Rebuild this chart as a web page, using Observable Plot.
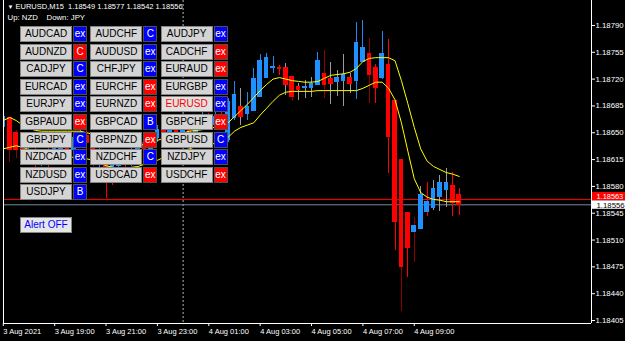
<!DOCTYPE html>
<html><head><meta charset="utf-8">
<script src="https://cdn.jsdelivr.net/npm/d3@7"></script>
<script src="https://cdn.jsdelivr.net/npm/@observablehq/plot@0.6"></script>
<style>
html,body{margin:0;padding:0;background:#000;}
#wrap{position:relative;width:625px;height:341px;overflow:hidden;background:#000;font-family:"Liberation Sans",Arial,sans-serif;}
#wrap svg{display:block;}
.btn{position:absolute;box-sizing:border-box;height:16px;width:52px;background:#d4d4d4;border:1px solid #858585;color:#000;font-size:10px;line-height:14px;text-align:center;white-space:nowrap;}
.sq{position:absolute;box-sizing:border-box;height:16px;width:14px;border:1px solid #505050;color:#fff;font-size:10px;line-height:14px;text-align:center;}
</style></head><body><div id="wrap"></div>
<script>
// ---- data (EURUSD M15, bars from 3 Aug 17:00 to 4 Aug 10:45) ----
const open  = [1.18657,1.18669,1.18650,1.18633,1.18616,1.18627,1.18611,1.18624,1.18614,1.18629,1.18640,1.18627,1.18643,1.18646,1.18636,1.18614,1.18624,1.18594,1.18607,1.18620,1.18611,1.18627,1.18637,1.18629,1.18643,1.18653,1.18645,1.18656,1.18648,1.18658,1.18650,1.18661,1.18669,1.18660,1.18671,1.18640,1.18669,1.18683,1.18675,1.18679,1.18697,1.18721,1.18735,1.18735,1.18734,1.18723,1.18710,1.18708,1.18709,1.18712,1.18727,1.18720,1.18716,1.18718,1.18721,1.18718,1.18742,1.18753,1.18734,1.18721,1.18738,1.18692,1.18615,1.18545,1.18521,1.18524,1.18546,1.18552,1.18566,1.18575,1.18580,1.18569];
const high  = [1.18696,1.18670,1.18653,1.18640,1.18631,1.18629,1.18627,1.18632,1.18636,1.18650,1.18645,1.18649,1.18658,1.18653,1.18640,1.18629,1.18627,1.18614,1.18627,1.18627,1.18632,1.18643,1.18645,1.18649,1.18660,1.18658,1.18663,1.18661,1.18666,1.18665,1.18669,1.18676,1.18675,1.18679,1.18676,1.18695,1.18717,1.18708,1.18703,1.18734,1.18752,1.18753,1.18750,1.18738,1.18740,1.18723,1.18714,1.18718,1.18722,1.18755,1.18757,1.18742,1.18731,1.18752,1.18727,1.18794,1.18797,1.18773,1.18739,1.18782,1.18772,1.18692,1.18615,1.18545,1.18539,1.18580,1.18585,1.18588,1.18594,1.18603,1.18598,1.18577];
const low   = [1.18653,1.18611,1.18616,1.18607,1.18611,1.18603,1.18606,1.18601,1.18610,1.18624,1.18619,1.18622,1.18637,1.18627,1.18606,1.18601,1.18564,1.18581,1.18601,1.18603,1.18606,1.18620,1.18623,1.18624,1.18637,1.18640,1.18640,1.18643,1.18643,1.18645,1.18646,1.18656,1.18653,1.18654,1.18656,1.18637,1.18666,1.18660,1.18666,1.18679,1.18696,1.18721,1.18727,1.18725,1.18699,1.18691,1.18692,1.18695,1.18696,1.18712,1.18695,1.18687,1.18697,1.18684,1.18701,1.18693,1.18742,1.18688,1.18688,1.18720,1.18597,1.18496,1.18417,1.18461,1.18481,1.18524,1.18541,1.18549,1.18547,1.18552,1.18541,1.18542];
const close = [1.18670,1.18627,1.18628,1.18616,1.18627,1.18611,1.18624,1.18614,1.18629,1.18640,1.18627,1.18643,1.18650,1.18636,1.18614,1.18624,1.18594,1.18607,1.18620,1.18611,1.18627,1.18637,1.18629,1.18643,1.18653,1.18645,1.18656,1.18648,1.18658,1.18650,1.18661,1.18669,1.18660,1.18671,1.18663,1.18690,1.18699,1.18670,1.18683,1.18720,1.18744,1.18747,1.18736,1.18733,1.18712,1.18697,1.18706,1.18710,1.18714,1.18744,1.18712,1.18713,1.18721,1.18725,1.18714,1.18767,1.18761,1.18726,1.18709,1.18753,1.18645,1.18534,1.18475,1.18499,1.18528,1.18569,1.18559,1.18577,1.18585,1.18584,1.18558,1.18556];
// wick colour code per bar: b blue, r red, d dark red, g gray
const wickCode = ["b","d","d","r","b","r","b","r","b","b","r","b","b","r","r","b","r","r","b","r","b","b","r","b","b","r","b","r","b","r","b","b","r","b","r","b","b","g","b","b","b","b","b","r","g","d","g","g","g","b","d","g","g","g","g","b","b","d","r","b","r","r","d","r","d","g","r","g","g","g","r","r"];
// two yellow moving-average bands
const bandUpper = [1.18666,1.18670,1.18666,1.18660,1.18656,1.18653,1.18652,1.18652,1.18652,1.18652,1.18652,1.18652,1.18652,1.18650,1.18648,1.18644,1.18640,1.18636,1.18633,1.18632,1.18632,1.18633,1.18635,1.18637,1.18640,1.18643,1.18645,1.18648,1.18650,1.18652,1.18653,1.18654,1.18656,1.18657,1.18658,1.18663,1.18671,1.18679,1.18687,1.18696,1.18705,1.18713,1.18720,1.18722,1.18720,1.18718,1.18717,1.18716,1.18716,1.18717,1.18721,1.18725,1.18726,1.18727,1.18729,1.18734,1.18743,1.18747,1.18748,1.18748,1.18748,1.18744,1.18718,1.18688,1.18657,1.18629,1.18613,1.18606,1.18602,1.18598,1.18596,1.18593];
const bandLower = [1.18629,1.18631,1.18633,1.18631,1.18628,1.18626,1.18623,1.18620,1.18619,1.18618,1.18618,1.18618,1.18618,1.18616,1.18614,1.18611,1.18607,1.18605,1.18603,1.18603,1.18605,1.18606,1.18609,1.18611,1.18614,1.18618,1.18620,1.18624,1.18627,1.18629,1.18632,1.18633,1.18635,1.18636,1.18639,1.18644,1.18652,1.18657,1.18660,1.18663,1.18673,1.18682,1.18691,1.18699,1.18703,1.18704,1.18704,1.18704,1.18704,1.18705,1.18705,1.18705,1.18705,1.18705,1.18705,1.18705,1.18708,1.18712,1.18716,1.18716,1.18708,1.18693,1.18663,1.18626,1.18590,1.18572,1.18566,1.18563,1.18562,1.18560,1.18560,1.18560];

const yTicks = [1.18790,1.18755,1.18720,1.18685,1.18650,1.18615,1.18580,1.18545,1.18510,1.18475,1.18440,1.18405];
const xTickBars = [0,8,16,24,32,40,48,56,64];
const xTickLabels = ["3 Aug 2021","3 Aug 19:00","3 Aug 21:00","3 Aug 23:00","4 Aug 01:00","4 Aug 03:00","4 Aug 05:00","4 Aug 07:00","4 Aug 09:00"];
const daySeparatorBars = [28];
const askPrice = 1.18563;
const bidPrice = 1.18556;
const titleText = "EURUSD,M15  1.18549 1.18577 1.18542 1.18556";
const upText = "Up: NZD";
const downText = "Down: JPY";

const pairs = ["AUDCAD","AUDCHF","AUDJPY","AUDNZD","AUDUSD","CADCHF","CADJPY","CHFJPY","EURAUD","EURCAD","EURCHF","EURGBP","EURJPY","EURNZD","EURUSD","GBPAUD","GBPCAD","GBPCHF","GBPJPY","GBPNZD","GBPUSD","NZDCAD","NZDCHF","NZDJPY","NZDUSD","USDCAD","USDCHF","USDJPY"];
const pairSignal = ["ex","C","ex","C","ex","ex","C","ex","ex","ex","ex","ex","ex","ex","ex","ex","B","ex","C","ex","C","ex","C","ex","ex","ex","ex","B"];
const pairSignalColor = ["blue","blue","blue","red","blue","red","blue","blue","red","blue","red","blue","blue","red","blue","red","blue","red","blue","red","blue","blue","blue","blue","blue","red","red","blue"];
const activePair = "EURUSD";
const alertText = "Alert OFF";

// ---- styles ----
const UP = "#1e90ff", DOWN = "#ff0000";
const wickColors = {b: "#1e88f0", r: "#ff0000", d: "#8b0000", g: "#9a9a9a"};
const FONT = "Liberation Sans, Arial, sans-serif";
const xDomain = [0.03, 91.6];
const yDomain = [1.184011, 1.188226];

const bars = open.map((o, i) => ({i, o, h: high[i], l: low[i], c: close[i], w: wickColors[wickCode[i]], up: bandUpper[i], lo: bandLower[i]}));

const chart = Plot.plot({
  width: 625, height: 341,
  marginLeft: 3, marginRight: 34, marginTop: 0, marginBottom: 18,
  x: {domain: xDomain, axis: null},
  y: {domain: yDomain, axis: null},
  color: {type: "identity"},
  style: {background: "#000", color: "#fff", fontFamily: FONT, overflow: "visible"},
  marks: [
    Plot.ruleX(daySeparatorBars, {x: d => d, stroke: "#b4b4b4", strokeDasharray: "2,2"}),
    Plot.ruleY([askPrice], {stroke: "#ff0000"}),
    Plot.ruleY([bidPrice], {stroke: "#778899"}),
    Plot.ruleX(bars, {x: "i", y1: "l", y2: "h", stroke: "w", clip: true, shapeRendering: "crispEdges"}),
    Plot.rect(bars, {x1: d => d.i - 0.36, x2: d => d.i + 0.36, y1: d => Math.min(d.o, d.c), y2: d => Math.max(d.o, d.c), insetTop: -0.5, insetBottom: -0.5, fill: d => d.c >= d.o ? UP : DOWN, clip: true, shapeRendering: "crispEdges"}),
    Plot.line(bars, {x: "i", y: "up", stroke: "#ffff00", strokeWidth: 1, clip: true}),
    Plot.line(bars, {x: "i", y: "lo", stroke: "#ffff00", strokeWidth: 1, clip: true}),
    Plot.ruleX([xDomain[0], xDomain[1]], {stroke: "#fff"}),
    Plot.ruleY([yDomain[0]], {stroke: "#fff"}),
    Plot.axisY(yTicks, {anchor: "right", tickSize: 3, tickPadding: 1, tickFormat: d => d.toFixed(5), fontSize: 7.8, color: "#fff", label: null}),
    Plot.axisX(xTickBars, {anchor: "bottom", tickSize: 3, tickPadding: 2, textAnchor: "start", tickFormat: d => xTickLabels[xTickBars.indexOf(d)], fontSize: 7.5, color: "#fff", label: null}),
    Plot.text([askPrice], {y: d => d, text: d => d.toFixed(5), frameAnchor: "right", dx: 5, dy: -2.8, textAnchor: "start", fill: "#fff", fontSize: 7.4}),
    Plot.text([bidPrice], {y: d => d, text: d => d.toFixed(5), frameAnchor: "right", dx: 5, dy: 0.6, textAnchor: "start", fill: "#000", fontSize: 7.8}),
    Plot.text(["\u25BC"], {frameAnchor: "top-left", dx: 4, dy: 6.5, textAnchor: "start", lineAnchor: "middle", fontSize: 6, fill: "#fff"}),
    Plot.text([titleText], {frameAnchor: "top-left", dx: 12, dy: 6.5, textAnchor: "start", lineAnchor: "middle", fontSize: 7.5, fill: "#fff"}),
    Plot.text([upText], {frameAnchor: "top-left", dx: 4, dy: 16.5, textAnchor: "start", lineAnchor: "middle", fontSize: 7.8, fill: "#fff"}),
    Plot.text([downText], {frameAnchor: "top-left", dx: 43, dy: 16.5, textAnchor: "start", lineAnchor: "middle", fontSize: 7.8, fill: "#fff"})
  ]
});

const wrap = document.getElementById("wrap");
wrap.appendChild(chart);

// price tags behind the right-axis labels (inserted right before each tag's mark group)
const ys = chart.scale("y"), xs = chart.scale("x");
const tagX = xs.range[1] + 1;
const allTexts = Array.from(chart.querySelectorAll("text"));
for (const [price, bg, shift] of [[askPrice, "#ff0000", -2.8], [bidPrice, "#ffffff", 0.3]]) {
  const label = price.toFixed(5);
  const t = allTexts.find(el => el.textContent === label);
  if (!t) continue;
  let g = t;
  while (g.parentNode && g.parentNode !== chart) g = g.parentNode;
  const yc = ys.apply(price) + shift;
  const r = document.createElementNS("http://www.w3.org/2000/svg", "rect");
  r.setAttribute("x", tagX); r.setAttribute("y", yc - 4.2);
  r.setAttribute("width", 625 - tagX); r.setAttribute("height", 8.4);
  r.setAttribute("fill", bg);
  chart.insertBefore(r, g);
}

// button panel
const colLeft = c => 20 + c * 70.3;
const rowTop = r => 26 + r * 17.6;
pairs.forEach((p, k) => {
  const c = k % 3, r = Math.floor(k / 3);
  const b = document.createElement("div");
  b.className = "btn";
  b.textContent = p;
  b.style.left = colLeft(c) + "px";
  b.style.top = rowTop(r) + "px";
  if (p === activePair) { b.style.color = "#ff0000"; b.style.background = "#e0e0e0"; }
  wrap.appendChild(b);
  const s = document.createElement("div");
  s.className = "sq";
  s.textContent = pairSignal[k];
  s.style.left = (colLeft(c) + 53) + "px";
  s.style.top = rowTop(r) + "px";
  s.style.background = pairSignalColor[k] === "blue" ? "#0000ff" : "#ff0000";
  wrap.appendChild(s);
});
const al = document.createElement("div");
al.className = "btn";
al.textContent = alertText;
al.style.left = "20px"; al.style.top = "217px";
al.style.background = "#e6e6e6"; al.style.color = "#0000ff";
wrap.appendChild(al);
</script>
</body></html>
